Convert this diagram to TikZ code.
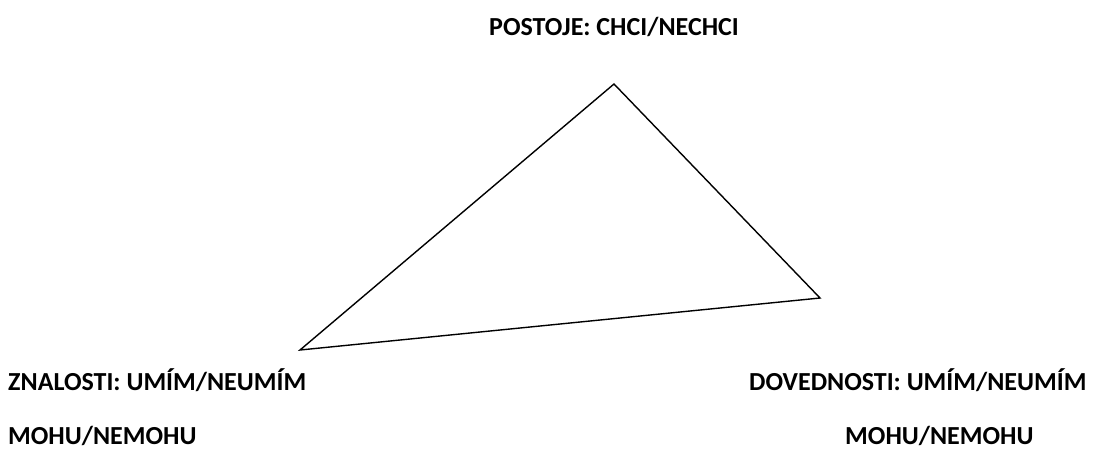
\documentclass[tikz,border=0pt]{standalone}
\usepackage{fontspec}
\setmainfont{Carlito}
\begin{document}
\begin{tikzpicture}[x=1pt,y=-1pt,
  lab/.style={font=\fontsize{26}{30}\selectfont\bfseries, inner sep=0pt, anchor=base west},
  edge/.style={draw=black, line width=1.4pt, line join=miter}]
\useasboundingbox (0,0) rectangle (1111,450);
\coordinate (top) at (614,84);
\coordinate (left) at (300,350);
\coordinate (right) at (820,298);
\draw[edge] (top) -- (right) -- (left) -- cycle;
\node[lab] (p) at (489,35) {POSTOJE: CHCI/NECHCI};
\node[lab] (z) at (8,390) {ZNALOSTI: UMÍM/NEUMÍM};
\node[lab] (zm) at (8,444) {MOHU/NEMOHU};
\node[lab] (d) at (749,390) {DOVEDNOSTI: UMÍM/NEUMÍM};
\node[lab] (dm) at (845,444) {MOHU/NEMOHU};
\end{tikzpicture}
\end{document}
